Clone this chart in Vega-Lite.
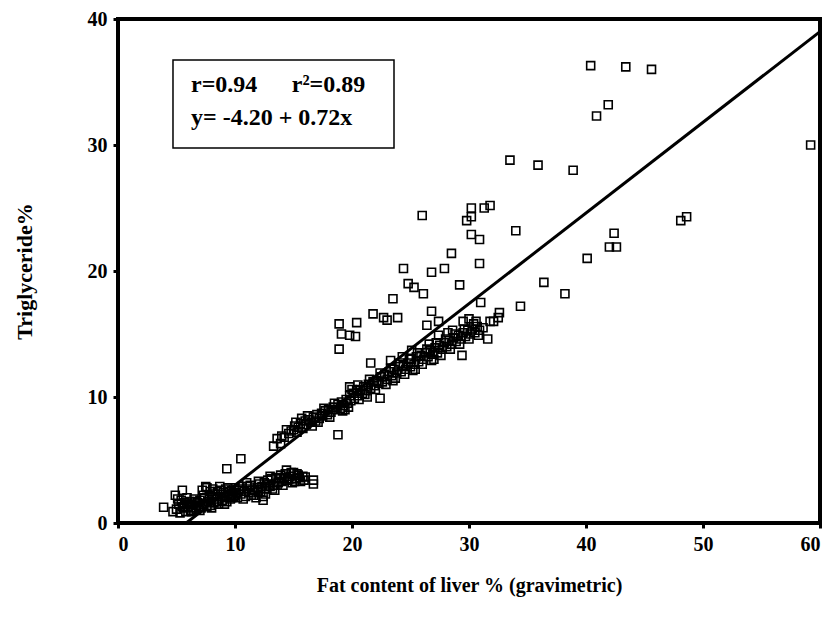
{
  "$schema": "https://vega.github.io/schema/vega-lite/v6.json",
  "width": 702,
  "height": 504,
  "autosize": {"type": "none"},
  "padding": {"left": 118, "top": 19, "right": 10, "bottom": 99},
  "background": "white",
  "config": {
    "view": {"stroke": "black", "strokeWidth": 4},
    "font": "Liberation Serif",
    "axis": {
      "domain": false,
      "grid": false,
      "tickColor": "black",
      "tickWidth": 3,
      "tickSize": 5,
      "labelFont": "Liberation Serif",
      "labelFontWeight": "bold",
      "labelFontSize": 20,
      "labelColor": "black",
      "titleFont": "Liberation Serif",
      "titleFontWeight": "bold",
      "titleFontSize": 22,
      "titleColor": "black"
    }
  },
  "datasets": {
    "pts": [
      {"fat": 3.9, "tg": 1.25}, {"fat": 4.7, "tg": 0.9}, {"fat": 4.9, "tg": 2.2}, {"fat": 5.5, "tg": 2.6},
      {"fat": 5.0, "tg": 1.1}, {"fat": 5.2, "tg": 1.5}, {"fat": 5.3, "tg": 0.8}, {"fat": 5.4, "tg": 1.8},
      {"fat": 5.6, "tg": 1.2}, {"fat": 5.7, "tg": 1.6}, {"fat": 5.8, "tg": 0.9}, {"fat": 5.9, "tg": 2.0},
      {"fat": 6.0, "tg": 1.3}, {"fat": 6.1, "tg": 1.7}, {"fat": 6.2, "tg": 1.0}, {"fat": 6.3, "tg": 1.5},
      {"fat": 6.4, "tg": 1.2}, {"fat": 6.5, "tg": 1.9}, {"fat": 6.6, "tg": 1.4}, {"fat": 6.7, "tg": 1.1},
      {"fat": 6.8, "tg": 1.6}, {"fat": 6.9, "tg": 1.3}, {"fat": 7.0, "tg": 1.8}, {"fat": 7.1, "tg": 1.2},
      {"fat": 7.2, "tg": 2.6}, {"fat": 7.3, "tg": 1.5}, {"fat": 7.4, "tg": 2.0}, {"fat": 7.5, "tg": 2.9},
      {"fat": 7.6, "tg": 2.8}, {"fat": 7.7, "tg": 1.7}, {"fat": 7.8, "tg": 2.2}, {"fat": 7.9, "tg": 1.4},
      {"fat": 8.0, "tg": 2.0}, {"fat": 8.1, "tg": 2.7}, {"fat": 8.2, "tg": 1.6}, {"fat": 8.3, "tg": 2.3},
      {"fat": 8.4, "tg": 1.9}, {"fat": 8.5, "tg": 2.5}, {"fat": 8.6, "tg": 1.5}, {"fat": 8.7, "tg": 2.9},
      {"fat": 8.8, "tg": 2.1}, {"fat": 8.9, "tg": 1.8}, {"fat": 9.0, "tg": 2.4}, {"fat": 9.1, "tg": 2.0},
      {"fat": 9.2, "tg": 2.7}, {"fat": 9.3, "tg": 1.7}, {"fat": 9.4, "tg": 2.2}, {"fat": 9.5, "tg": 2.5},
      {"fat": 9.6, "tg": 1.9}, {"fat": 9.7, "tg": 2.6}, {"fat": 9.8, "tg": 2.3}, {"fat": 9.9, "tg": 2.1},
      {"fat": 10.0, "tg": 2.8}, {"fat": 10.1, "tg": 2.4}, {"fat": 10.2, "tg": 2.0}, {"fat": 10.3, "tg": 2.6},
      {"fat": 10.5, "tg": 2.3}, {"fat": 10.6, "tg": 2.9}, {"fat": 10.8, "tg": 2.5}, {"fat": 10.9, "tg": 2.1},
      {"fat": 11.0, "tg": 2.7}, {"fat": 11.2, "tg": 2.4}, {"fat": 11.3, "tg": 3.0}, {"fat": 11.5, "tg": 2.6},
      {"fat": 11.6, "tg": 2.2}, {"fat": 11.8, "tg": 2.0}, {"fat": 11.9, "tg": 2.8}, {"fat": 12.1, "tg": 3.1},
      {"fat": 12.2, "tg": 2.5}, {"fat": 12.4, "tg": 1.8}, {"fat": 12.4, "tg": 2.1}, {"fat": 12.5, "tg": 3.2},
      {"fat": 12.7, "tg": 2.7}, {"fat": 12.8, "tg": 3.4}, {"fat": 13.0, "tg": 2.9}, {"fat": 13.1, "tg": 3.5},
      {"fat": 13.3, "tg": 3.0}, {"fat": 13.4, "tg": 2.6}, {"fat": 13.5, "tg": 3.6}, {"fat": 13.7, "tg": 3.2},
      {"fat": 13.9, "tg": 3.8}, {"fat": 14.0, "tg": 3.3}, {"fat": 14.2, "tg": 3.6}, {"fat": 14.4, "tg": 4.2},
      {"fat": 14.5, "tg": 3.4}, {"fat": 14.7, "tg": 3.7}, {"fat": 14.9, "tg": 3.2}, {"fat": 15.0, "tg": 4.0},
      {"fat": 15.2, "tg": 3.5}, {"fat": 15.4, "tg": 3.8}, {"fat": 15.6, "tg": 3.3}, {"fat": 15.8, "tg": 3.7},
      {"fat": 16.0, "tg": 3.65}, {"fat": 16.7, "tg": 3.4}, {"fat": 16.7, "tg": 3.1}, {"fat": 9.3, "tg": 4.3},
      {"fat": 10.5, "tg": 5.1},
      {"fat": 5.1, "tg": 1.9}, {"fat": 5.5, "tg": 1.3}, {"fat": 5.9, "tg": 1.5}, {"fat": 6.3, "tg": 0.9},
      {"fat": 6.6, "tg": 1.7}, {"fat": 7.0, "tg": 1.0}, {"fat": 7.3, "tg": 2.2}, {"fat": 7.6, "tg": 1.3},
      {"fat": 7.9, "tg": 2.5}, {"fat": 8.2, "tg": 2.1}, {"fat": 8.5, "tg": 1.7}, {"fat": 8.8, "tg": 2.6},
      {"fat": 9.1, "tg": 1.5}, {"fat": 9.4, "tg": 2.8}, {"fat": 9.7, "tg": 2.0}, {"fat": 10.0, "tg": 2.2},
      {"fat": 10.4, "tg": 2.7}, {"fat": 10.7, "tg": 1.9}, {"fat": 11.1, "tg": 2.9}, {"fat": 11.4, "tg": 2.2},
      {"fat": 11.7, "tg": 2.6}, {"fat": 12.0, "tg": 2.4}, {"fat": 12.3, "tg": 2.9}, {"fat": 12.6, "tg": 2.3},
      {"fat": 12.9, "tg": 3.1}, {"fat": 13.2, "tg": 2.7}, {"fat": 13.6, "tg": 3.0}, {"fat": 13.8, "tg": 3.5},
      {"fat": 14.1, "tg": 3.0}, {"fat": 14.3, "tg": 3.9}, {"fat": 14.6, "tg": 3.5}, {"fat": 14.8, "tg": 4.0},
      {"fat": 15.1, "tg": 3.3}, {"fat": 15.3, "tg": 3.9}, {"fat": 15.5, "tg": 3.6}, {"fat": 15.9, "tg": 3.4},
      {"fat": 13.0, "tg": 3.7}, {"fat": 12.0, "tg": 3.3}, {"fat": 11.0, "tg": 3.2}, {"fat": 8.0, "tg": 1.2},
      {"fat": 13.3, "tg": 6.1}, {"fat": 13.6, "tg": 6.7}, {"fat": 13.9, "tg": 6.3}, {"fat": 14.2, "tg": 6.8},
      {"fat": 14.6, "tg": 7.1}, {"fat": 14.8, "tg": 7.3}, {"fat": 15.0, "tg": 7.4}, {"fat": 15.1, "tg": 7.7},
      {"fat": 15.2, "tg": 8.0}, {"fat": 15.4, "tg": 7.6}, {"fat": 15.6, "tg": 7.9}, {"fat": 15.8, "tg": 7.5},
      {"fat": 16.0, "tg": 8.1}, {"fat": 16.1, "tg": 7.8}, {"fat": 16.3, "tg": 8.2}, {"fat": 16.5, "tg": 8.0},
      {"fat": 16.7, "tg": 8.4}, {"fat": 16.9, "tg": 8.1}, {"fat": 17.0, "tg": 8.6}, {"fat": 17.2, "tg": 8.3},
      {"fat": 17.4, "tg": 8.7}, {"fat": 17.5, "tg": 8.5}, {"fat": 17.7, "tg": 8.9}, {"fat": 17.9, "tg": 8.6},
      {"fat": 18.0, "tg": 9.0}, {"fat": 18.2, "tg": 8.8}, {"fat": 18.4, "tg": 9.2}, {"fat": 18.6, "tg": 9.0},
      {"fat": 18.8, "tg": 9.4}, {"fat": 19.0, "tg": 9.1}, {"fat": 19.1, "tg": 9.6}, {"fat": 19.3, "tg": 9.3},
      {"fat": 19.5, "tg": 9.8}, {"fat": 19.6, "tg": 9.5}, {"fat": 19.8, "tg": 10.1}, {"fat": 19.9, "tg": 9.7},
      {"fat": 20.1, "tg": 10.3}, {"fat": 20.2, "tg": 9.9}, {"fat": 20.4, "tg": 10.5}, {"fat": 20.5, "tg": 10.1},
      {"fat": 20.7, "tg": 10.6}, {"fat": 20.9, "tg": 10.3}, {"fat": 21.0, "tg": 10.8}, {"fat": 21.2, "tg": 10.5},
      {"fat": 21.4, "tg": 11.0}, {"fat": 21.6, "tg": 10.7}, {"fat": 21.8, "tg": 11.2}, {"fat": 21.9, "tg": 10.9},
      {"fat": 22.1, "tg": 11.3}, {"fat": 22.3, "tg": 11.1}, {"fat": 22.5, "tg": 11.6}, {"fat": 22.6, "tg": 11.2},
      {"fat": 22.8, "tg": 11.8}, {"fat": 23.0, "tg": 11.4}, {"fat": 23.2, "tg": 12.0}, {"fat": 23.4, "tg": 11.7},
      {"fat": 23.6, "tg": 12.2}, {"fat": 23.8, "tg": 11.9}, {"fat": 24.0, "tg": 12.4}, {"fat": 24.2, "tg": 12.0},
      {"fat": 24.4, "tg": 12.5}, {"fat": 24.6, "tg": 12.2}, {"fat": 24.8, "tg": 12.7}, {"fat": 25.0, "tg": 12.4},
      {"fat": 25.1, "tg": 13.0}, {"fat": 25.3, "tg": 12.6}, {"fat": 25.5, "tg": 13.2}, {"fat": 25.7, "tg": 12.8},
      {"fat": 25.9, "tg": 13.3}, {"fat": 26.1, "tg": 13.0}, {"fat": 26.3, "tg": 13.5}, {"fat": 26.5, "tg": 13.2},
      {"fat": 26.7, "tg": 13.7}, {"fat": 26.9, "tg": 13.4}, {"fat": 27.1, "tg": 13.9}, {"fat": 27.3, "tg": 13.5},
      {"fat": 27.5, "tg": 14.1}, {"fat": 27.7, "tg": 13.8}, {"fat": 27.9, "tg": 14.3}, {"fat": 28.1, "tg": 14.0},
      {"fat": 28.3, "tg": 14.5}, {"fat": 28.5, "tg": 14.2}, {"fat": 28.7, "tg": 14.7}, {"fat": 28.9, "tg": 14.4},
      {"fat": 29.1, "tg": 14.9}, {"fat": 29.3, "tg": 14.6}, {"fat": 29.5, "tg": 15.1}, {"fat": 29.7, "tg": 14.8},
      {"fat": 29.9, "tg": 15.3}, {"fat": 30.1, "tg": 15.0}, {"fat": 30.3, "tg": 15.4}, {"fat": 30.5, "tg": 15.1},
      {"fat": 30.7, "tg": 15.6}, {"fat": 18.8, "tg": 7.0}, {"fat": 22.4, "tg": 9.9}, {"fat": 21.6, "tg": 12.7},
      {"fat": 23.3, "tg": 12.9}, {"fat": 19.8, "tg": 10.8}, {"fat": 20.5, "tg": 10.95}, {"fat": 25.1, "tg": 13.7},
      {"fat": 28.2, "tg": 15.1}, {"fat": 27.4, "tg": 14.9}, {"fat": 29.4, "tg": 13.3}, {"fat": 31.6, "tg": 14.6},
      {"fat": 30.9, "tg": 15.3},
      {"fat": 14.0, "tg": 6.9}, {"fat": 14.4, "tg": 7.4}, {"fat": 15.3, "tg": 7.2}, {"fat": 15.7, "tg": 8.3},
      {"fat": 16.2, "tg": 8.5}, {"fat": 16.6, "tg": 7.7}, {"fat": 17.1, "tg": 8.0}, {"fat": 17.6, "tg": 9.1},
      {"fat": 18.1, "tg": 8.4}, {"fat": 18.5, "tg": 9.5}, {"fat": 19.2, "tg": 8.9}, {"fat": 19.7, "tg": 9.2},
      {"fat": 20.0, "tg": 10.6}, {"fat": 20.6, "tg": 9.8}, {"fat": 21.1, "tg": 10.2}, {"fat": 21.5, "tg": 11.4},
      {"fat": 22.0, "tg": 10.6}, {"fat": 22.4, "tg": 11.9}, {"fat": 22.9, "tg": 11.0}, {"fat": 23.3, "tg": 12.3},
      {"fat": 23.7, "tg": 11.5}, {"fat": 24.1, "tg": 12.7}, {"fat": 24.5, "tg": 11.8}, {"fat": 24.9, "tg": 13.0},
      {"fat": 25.2, "tg": 12.1}, {"fat": 25.6, "tg": 13.5}, {"fat": 26.0, "tg": 12.6}, {"fat": 26.4, "tg": 13.8},
      {"fat": 26.8, "tg": 12.9}, {"fat": 27.2, "tg": 14.3}, {"fat": 27.6, "tg": 13.3}, {"fat": 28.0, "tg": 14.6},
      {"fat": 28.4, "tg": 13.8}, {"fat": 28.8, "tg": 15.0}, {"fat": 29.2, "tg": 14.2}, {"fat": 29.6, "tg": 15.4},
      {"fat": 30.0, "tg": 14.6}, {"fat": 30.4, "tg": 15.8}, {"fat": 30.8, "tg": 14.9}, {"fat": 31.2, "tg": 15.5},
      {"fat": 24.3, "tg": 13.2}, {"fat": 26.6, "tg": 14.2}, {"fat": 28.6, "tg": 15.3}, {"fat": 27.0, "tg": 13.0},
      {"fat": 25.4, "tg": 12.2}, {"fat": 23.5, "tg": 11.3}, {"fat": 21.3, "tg": 10.0}, {"fat": 19.4, "tg": 9.0},
      {"fat": 40.4, "tg": 36.3}, {"fat": 43.4, "tg": 36.2}, {"fat": 45.6, "tg": 36.0}, {"fat": 41.9, "tg": 33.2},
      {"fat": 40.9, "tg": 32.3}, {"fat": 59.2, "tg": 30.0}, {"fat": 33.5, "tg": 28.8}, {"fat": 35.9, "tg": 28.4},
      {"fat": 38.9, "tg": 28.0}, {"fat": 26.0, "tg": 24.4}, {"fat": 30.2, "tg": 25.0}, {"fat": 31.8, "tg": 25.2},
      {"fat": 31.3, "tg": 25.0}, {"fat": 30.2, "tg": 24.3}, {"fat": 29.8, "tg": 24.0}, {"fat": 34.0, "tg": 23.2},
      {"fat": 30.2, "tg": 22.9}, {"fat": 30.9, "tg": 22.5}, {"fat": 48.1, "tg": 24.0}, {"fat": 48.6, "tg": 24.3},
      {"fat": 42.4, "tg": 23.0}, {"fat": 42.0, "tg": 21.9}, {"fat": 42.6, "tg": 21.9}, {"fat": 40.1, "tg": 21.0},
      {"fat": 28.5, "tg": 21.4}, {"fat": 24.4, "tg": 20.2}, {"fat": 26.8, "tg": 19.9}, {"fat": 27.9, "tg": 20.2},
      {"fat": 30.9, "tg": 20.6}, {"fat": 29.2, "tg": 18.9}, {"fat": 24.8, "tg": 19.0}, {"fat": 25.3, "tg": 18.7},
      {"fat": 26.1, "tg": 18.2}, {"fat": 23.5, "tg": 17.8}, {"fat": 36.4, "tg": 19.1}, {"fat": 38.2, "tg": 18.2},
      {"fat": 34.4, "tg": 17.2}, {"fat": 26.8, "tg": 16.8}, {"fat": 31.0, "tg": 17.5}, {"fat": 32.6, "tg": 16.7},
      {"fat": 32.5, "tg": 16.3}, {"fat": 32.1, "tg": 16.0}, {"fat": 31.8, "tg": 16.0}, {"fat": 29.5, "tg": 16.0},
      {"fat": 30.0, "tg": 16.2}, {"fat": 30.6, "tg": 16.0}, {"fat": 27.4, "tg": 16.0}, {"fat": 26.4, "tg": 15.7},
      {"fat": 23.9, "tg": 16.3}, {"fat": 22.7, "tg": 16.3}, {"fat": 23.0, "tg": 16.1}, {"fat": 21.8, "tg": 16.6},
      {"fat": 18.9, "tg": 15.8}, {"fat": 20.4, "tg": 15.9}, {"fat": 19.1, "tg": 15.0}, {"fat": 19.8, "tg": 14.9},
      {"fat": 20.3, "tg": 14.8}, {"fat": 18.9, "tg": 13.8}
    ],
    "fit": [{"fat": 5.83, "tg": 0}, {"fat": 60, "tg": 39.0}]
  },
  "layer": [
    {
      "data": {"name": "pts"},
      "mark": {"type": "point", "shape": "square", "filled": false, "stroke": "black", "strokeWidth": 1.6, "size": 64, "opacity": 1},
      "encoding": {
        "x": {"field": "fat", "type": "quantitative", "scale": {"domain": [0, 60], "nice": false, "zero": false},
              "axis": {"values": [0, 10, 20, 30, 40, 50, 60], "title": "Fat content of liver % (gravimetric)", "titleFontSize": 20, "labelPadding": 6, "titlePadding": 21}},
        "y": {"field": "tg", "type": "quantitative", "scale": {"domain": [0, 40], "nice": false, "zero": false},
              "axis": {"values": [0, 10, 20, 30, 40], "title": "Triglyceride%", "labelPadding": 6, "titlePadding": 51}}
      }
    },
    {
      "data": {"name": "fit"},
      "mark": {"type": "line", "color": "black", "strokeWidth": 3},
      "encoding": {
        "x": {"field": "fat", "type": "quantitative"},
        "y": {"field": "tg", "type": "quantitative"}
      }
    },
    {
      "data": {"values": [{}]},
      "mark": {"type": "rect", "fill": "white", "stroke": "black", "strokeWidth": 1.5},
      "encoding": {
        "x": {"datum": 4.7, "type": "quantitative"},
        "x2": {"datum": 23.59},
        "y": {"datum": 36.75, "type": "quantitative"},
        "y2": {"datum": 29.76}
      }
    },
    {
      "data": {"values": [{"label": "r=0.94", "px": 6.24, "py": 34.2}, {"label": "r²=0.89", "px": 14.85, "py": 34.2}, {"label": "y= -4.20 + 0.72x", "px": 6.24, "py": 31.6}]},
      "mark": {"type": "text", "align": "left", "baseline": "alphabetic", "font": "Liberation Serif", "fontWeight": "bold", "fontSize": 24, "color": "black"},
      "encoding": {
        "x": {"field": "px", "type": "quantitative"},
        "y": {"field": "py", "type": "quantitative"},
        "text": {"field": "label"}
      }
    }
  ]
}
